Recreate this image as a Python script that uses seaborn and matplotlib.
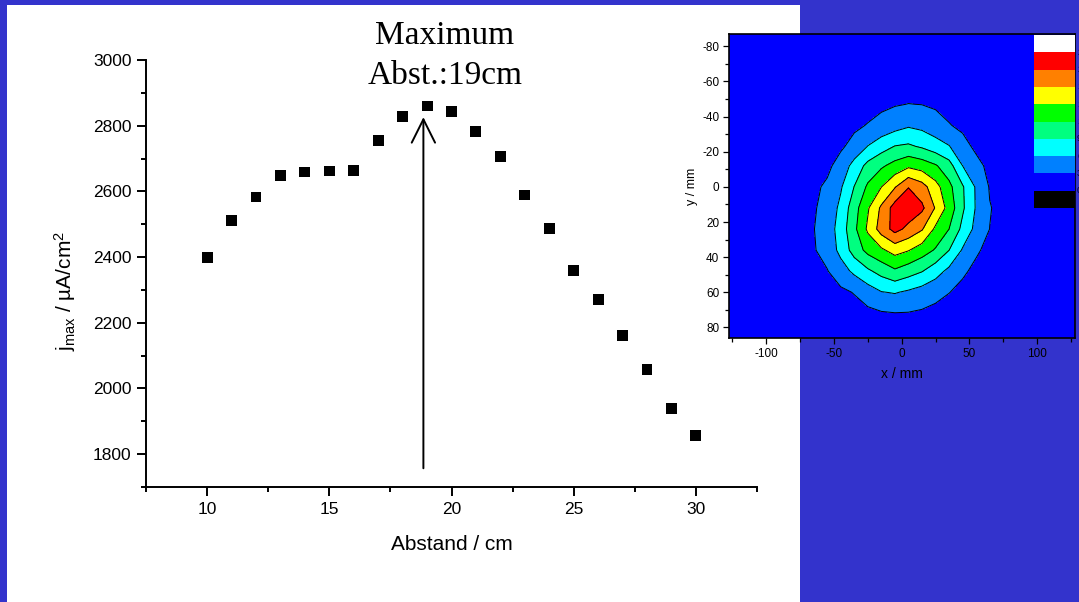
import numpy as np
import pandas as pd
import matplotlib
matplotlib.use("Agg")
import matplotlib.pyplot as plt
import seaborn as sns
from matplotlib.patches import Rectangle
from matplotlib.ticker import MultipleLocator

# ---------------- data ----------------
abstand = [10, 11, 12, 13, 14, 15, 16, 17, 18, 19, 20,
           21, 22, 23, 24, 25, 26, 27, 28, 29, 30]
jmax = [2400, 2510, 2583, 2647, 2659, 2662, 2665, 2756, 2829, 2860, 2842,
        2781, 2705, 2589, 2488, 2360, 2272, 2162, 2059, 1940, 1858]

arrow_x = 18.85
arrow_from = 1757
arrow_to = 2826

# inset contour map grid (x / mm, y / mm)
map_x = [-128, -90, -70, -55, -45, -35, -25, -15, -5, 5, 15, 25, 35, 45, 55, 65, 80, 128]
map_y = [-87, -60, -47, -35, -23, -12, 0, 12, 24, 36, 48, 60, 72, 87]
row_m87 = [0] * 18
row_m60 = [0, 0, 0.2, 0.4, 0.6, 0.8, 1.0, 1.2, 1.4, 1.5, 1.5, 1.4, 1.2, 1.0, 0.8, 0.6, 0.3, 0]
row_m47 = [0, 0.3, 0.6, 0.9, 1.2, 1.6, 2.0, 2.4, 2.8, 3.05, 2.95, 2.6, 2.2, 1.8, 1.4, 1.0, 0.6, 0]
row_m35 = [0, 0.4, 0.9, 1.5, 2.0, 2.5, 3.14, 3.98, 4.81, 5.65, 5.18, 4.16, 3.13, 2.5, 2.0, 1.5, 0.9, 0]
row_m23 = [0, 0.5, 1.2, 1.9, 2.6, 3.9, 6.1, 7.7, 9.12, 9.47, 8.63, 7.4, 6.16, 3.84, 2.5, 1.8, 1.0, 0]
row_m12 = [0, 0.8, 1.6, 2.4, 4.07, 7.1, 9.87, 11.55, 13.02, 14.42, 13.64, 12.32, 10.2, 6.0, 3.74, 2.4, 1.4, 0]
row_0 = [0, 1.0, 2.0, 3.44, 5.67, 9.07, 12.5, 14.95, 17.77, 20.9, 19.2, 16.11, 12.8, 9.31, 5.63, 2.8, 1.7, 0]
row_12 = [0, 1.2, 2.1, 3.96, 6.71, 10.75, 14.67, 18.53, 22.3, 23.0, 21.6, 17.76, 13.84, 9.47, 5.72, 3.12, 1.9, 0]
row_24 = [0, 1.2, 2.2, 4.34, 7.33, 11.29, 15.51, 19.3, 22.0, 20.2, 18.27, 14.42, 12.0, 8.2, 5.14, 2.98, 1.8, 0]
row_36 = [0, 1.1, 2.1, 4.09, 6.83, 10.26, 12.89, 14.48, 16.16, 15.17, 13.5, 11.7, 9.03, 5.7, 3.35, 2.3, 1.4, 0]
row_48 = [0, 0.8, 1.7, 2.85, 4.69, 6.62, 8.45, 10.03, 11.5, 10.3, 9.13, 7.24, 5.23, 3.4, 2.4, 1.6, 1.0, 0]
row_60 = [0, 0.5, 1.1, 1.7, 2.4, 3.14, 4.5, 5.86, 6.2, 5.51, 4.69, 3.87, 3.06, 2.3, 1.7, 1.2, 0.7, 0]
row_72 = [0, 0.3, 0.7, 1.1, 1.5, 1.9, 2.3, 2.7, 2.9, 2.85, 2.6, 2.2, 1.8, 1.4, 1.0, 0.7, 0.4, 0]
row_87 = [0] * 18

levels = [-1, 3, 6, 9, 12, 15, 18, 21, 24, 27]
level_colors = ["#0000FF", "#0080FF", "#00FFFF", "#00FF80", "#00FF00",
                "#FFFF00", "#FF8000", "#FF0000", "#FFFFFF"]
legend_labels = ["24", "21", "18", "15", "12", "9", "6", "3", "0"]
legend_colors = ["#FFFFFF", "#FF0000", "#FF8000", "#FFFF00", "#00FF00",
                 "#00FF80", "#00FFFF", "#0080FF", "#0000FF", "#000000"]

# ---------------- style ----------------
sns.set_theme(style="ticks")
plt.rcParams["font.family"] = ["Liberation Sans", "DejaVu Sans"]
plt.rcParams["axes.unicode_minus"] = False
plt.rcParams["mathtext.fontset"] = "custom"
plt.rcParams["mathtext.rm"] = "Liberation Sans"
plt.rcParams["mathtext.it"] = "Liberation Sans:italic"
plt.rcParams["mathtext.bf"] = "Liberation Sans:bold"

W, H = 1079, 602
fig = plt.figure(figsize=(W / 100, H / 100), dpi=100, facecolor="#3333CC")
fig.patches.append(Rectangle((7 / W, 0), (800 - 7) / W, (H - 5) / H,
                             transform=fig.transFigure, facecolor="white",
                             edgecolor="none", zorder=-10))

# ---------------- main axes ----------------
ax = fig.add_axes([146 / W, (H - 487) / H, (757 - 146) / W, (487 - 60) / H])
ax.patch.set_alpha(0)
df = pd.DataFrame({"Abstand": abstand, "jmax": jmax})
sns.scatterplot(data=df, x="Abstand", y="jmax", marker="s", s=62,
                color="black", edgecolor="none", ax=ax, clip_on=False)
ax.set_xlim(7.5, 32.5)
ax.set_ylim(1700, 3000)
ax.xaxis.set_major_locator(MultipleLocator(5))
ax.xaxis.set_minor_locator(MultipleLocator(2.5))
ax.yaxis.set_major_locator(MultipleLocator(200))
ax.yaxis.set_minor_locator(MultipleLocator(100))
for s in ["top", "right"]:
    ax.spines[s].set_visible(False)
for s in ["left", "bottom"]:
    ax.spines[s].set_linewidth(1.4)
    ax.spines[s].set_color("black")
ax.tick_params(which="major", direction="out", length=6.5, width=1.4,
               labelsize=12.5, colors="black", pad=4)
ax.tick_params(which="minor", direction="out", length=3.8, width=1.4, colors="black")
ax.set_xlabel("Abstand / cm", fontsize=15, color="black", va="center")
ax.xaxis.set_label_coords(0.5, (487 - 545) / 427)
ax.set_ylabel(r"j$_{\mathrm{max}}$ / µA/cm$^{\mathrm{2}}$", fontsize=15,
              color="black", va="center")
ax.yaxis.set_label_coords((65 - 146) / 611, (487 - 291) / 427)

ax.annotate("", xy=(arrow_x, arrow_to), xytext=(arrow_x, arrow_from),
            arrowprops=dict(arrowstyle="->,head_length=0.6,head_width=0.3",
                            mutation_scale=28, lw=1.4, color="black",
                            shrinkA=0, shrinkB=0))

fig.text(445 / W, 1 - 56 / H, "Maximum\nAbst.:19cm", ha="center", va="center",
         fontsize=24, family="Liberation Serif", linespacing=1.4, color="black")

# ---------------- inset contour map ----------------
axin = fig.add_axes([729 / W, (H - 338) / H, (1075 - 729) / W, (338 - 34) / H])
Z = np.array([row_m87, row_m60, row_m47, row_m35, row_m23, row_m12, row_0,
              row_12, row_24, row_36, row_48, row_60, row_72, row_87])
axin.contourf(map_x, map_y, Z, levels=levels, colors=level_colors)
axin.contour(map_x, map_y, Z, levels=levels[1:-2], colors="black", linewidths=0.7)
axin.set_xlim(-127.5, 128)
axin.set_ylim(86, -87)
axin.xaxis.set_major_locator(MultipleLocator(50))
axin.xaxis.set_minor_locator(MultipleLocator(25))
axin.yaxis.set_major_locator(MultipleLocator(20))
axin.yaxis.set_minor_locator(MultipleLocator(10))
for s in axin.spines.values():
    s.set_linewidth(1.2)
    s.set_color("black")
axin.tick_params(which="major", direction="out", length=4.5, width=0.9,
                 labelsize=8.5, colors="black", pad=2.5)
axin.tick_params(which="minor", direction="out", length=2.8, width=0.9, colors="black")
axin.set_xlabel("x / mm", fontsize=10, color="black", labelpad=5)
axin.set_ylabel("y / mm", fontsize=9, color="black", labelpad=3)

# legend boxes (Origin style) in the top-right corner of the map
box_h = 17.3 / 304
for i, c in enumerate(legend_colors):
    y0 = 1 - (1 + (i + 1) * 17.3) / 304
    axin.add_patch(Rectangle((0.8815, y0), 0.1185, box_h, transform=axin.transAxes,
                             facecolor=c, edgecolor="none", zorder=5, clip_on=False))
for i, lab in enumerate(legend_labels):
    y = 1 - (1 + (i + 1) * 17.3) / 304
    axin.text(1.006, y, lab, transform=axin.transAxes, fontsize=6.5,
              color="#000033", va="center", ha="left", clip_on=False)

fig.savefig("out.png", dpi=100, facecolor=fig.get_facecolor())
